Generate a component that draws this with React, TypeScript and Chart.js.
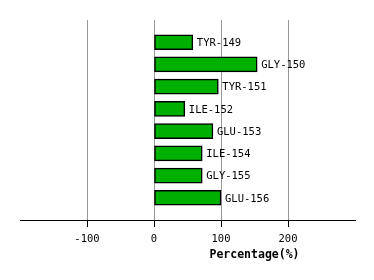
import React, { useEffect, useRef } from "react";
import { Chart, registerables } from "chart.js";

Chart.register(...registerables);

const residues = ["TYR-149", "GLY-150", "TYR-151", "ILE-152", "GLU-153", "ILE-154", "GLY-155", "GLU-156"];
const percentages = [58, 154, 96, 46, 88, 72, 72, 100];
const xMin = -200;
const xMax = 300;
const xStep = 100;
const shownTicks = [-100, 0, 100, 200];
const axisTitle = "Percentage(%)";

const FONT = "'DejaVu Sans Mono', monospace";

export default function App() {
  const ref = useRef<HTMLCanvasElement | null>(null);
  useEffect(() => {
    if (!ref.current) return;
    const labels = ["", ...residues, ""];
    const values: (number | null)[] = [null, ...percentages, null];

    const barLabels = {
      id: "barLabels",
      afterDatasetsDraw(chart: any) {
        const ctx = chart.ctx;
        const meta = chart.getDatasetMeta(0);
        ctx.save();
        ctx.font = `10.5px ${FONT}`;
        ctx.fillStyle = "#000";
        ctx.textBaseline = "middle";
        ctx.textAlign = "left";
        meta.data.forEach((el: any, i: number) => {
          if (values[i] == null) return;
          ctx.fillText(labels[i], el.x + 4, el.y + 1);
        });
        ctx.restore();
      },
    };

    const axisTitlePlugin = {
      id: "axisTitlePlugin",
      afterDraw(chart: any) {
        const ctx = chart.ctx;
        const xs = chart.scales.x;
        ctx.save();
        ctx.font = `bold 11.5px ${FONT}`;
        ctx.fillStyle = "#000";
        ctx.textAlign = "center";
        ctx.textBaseline = "middle";
        ctx.fillText(axisTitle, xs.getPixelForValue(150), chart.chartArea.bottom + 35);
        ctx.restore();
      },
    };

    const chart = new Chart(ref.current, {
      type: "bar",
      data: {
        labels,
        datasets: [
          {
            data: values,
            backgroundColor: "#00b000",
            borderColor: "#000000",
            borderWidth: 1.5,
            borderSkipped: false,
            barThickness: 15,
          },
        ],
      },
      options: {
        indexAxis: "y",
        animation: false,
        responsive: false,
        maintainAspectRatio: false,
        layout: { padding: { left: 20, top: 20, right: 19, bottom: 0 } },
        plugins: { legend: { display: false }, tooltip: { enabled: false } },
        scales: {
          x: {
            type: "linear",
            min: xMin,
            max: xMax,
            afterFit(scale: any) {
              scale.height = 60;
            },
            ticks: {
              stepSize: xStep,
              color: "#000",
              font: { family: FONT, size: 10.5 },
              padding: 6,
              maxRotation: 0,
              callback: (v: any) => (shownTicks.includes(Number(v)) ? String(v) : ""),
            },
            grid: {
              color: (c: any) => (c.tick && shownTicks.includes(c.tick.value) ? "#999999" : "rgba(0,0,0,0)"),
              tickColor: (c: any) => (c.tick && shownTicks.includes(c.tick.value) ? "#000000" : "rgba(0,0,0,0)"),
              tickLength: 7,
              lineWidth: 1,
            },
            border: { display: true, color: "#000", width: 1 },
          },
          y: {
            type: "category",
            offset: false,
            display: false,
            grid: { display: false },
          },
        },
      },
      plugins: [barLabels, axisTitlePlugin],
    } as any);
    return () => chart.destroy();
  }, []);

  return (
    <div style={{ position: "fixed", left: 0, top: 0, width: 374, height: 280, background: "#fff" }}>
      <canvas ref={ref} width={374} height={280} style={{ width: 374, height: 280 }} />
    </div>
  );
}
